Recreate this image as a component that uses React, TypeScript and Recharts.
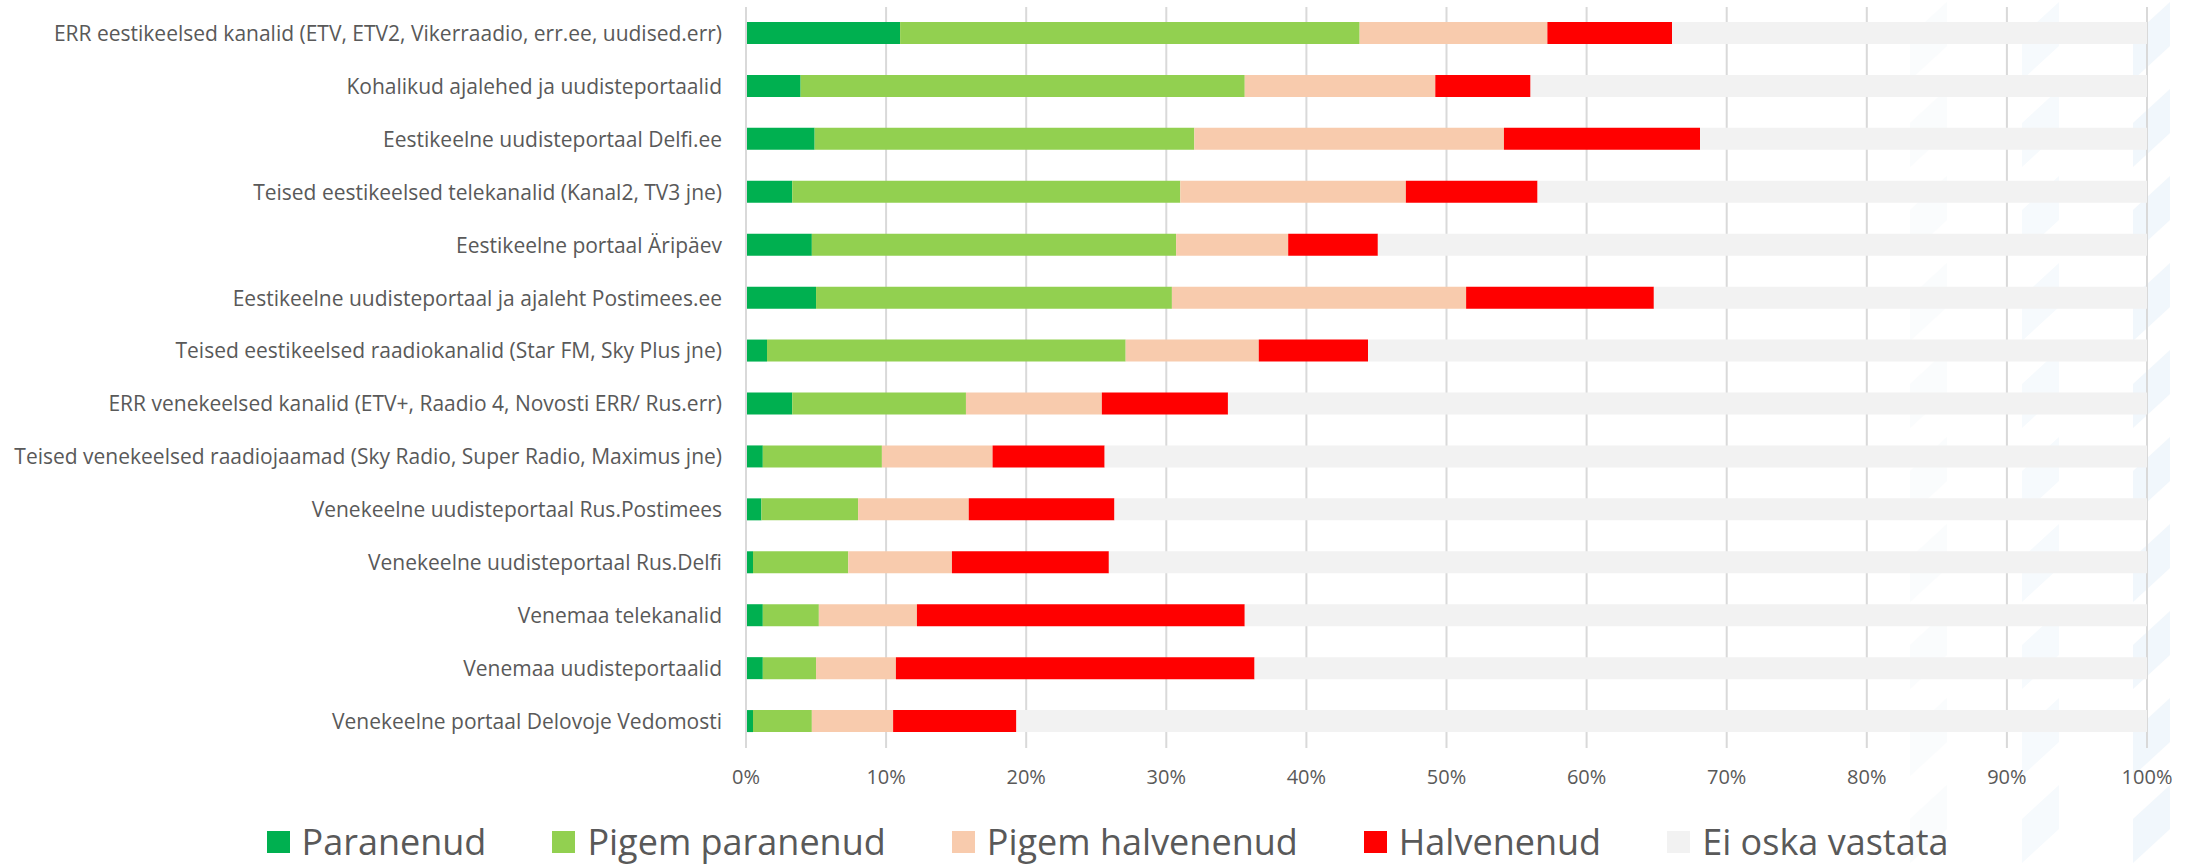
import React from 'react';
import { BarChart, Bar, XAxis, YAxis, CartesianGrid, Legend } from 'recharts';

const categories = [
  'ERR eestikeelsed kanalid (ETV, ETV2, Vikerraadio, err.ee, uudised.err)',
  'Kohalikud ajalehed ja uudisteportaalid',
  'Eestikeelne uudisteportaal Delfi.ee',
  'Teised eestikeelsed telekanalid (Kanal2, TV3 jne)',
  'Eestikeelne portaal Äripäev',
  'Eestikeelne uudisteportaal ja ajaleht Postimees.ee',
  'Teised eestikeelsed raadiokanalid (Star FM, Sky Plus jne)',
  'ERR venekeelsed kanalid (ETV+, Raadio 4, Novosti ERR/ Rus.err)',
  'Teised venekeelsed raadiojaamad (Sky Radio, Super Radio, Maximus jne)',
  'Venekeelne uudisteportaal Rus.Postimees',
  'Venekeelne uudisteportaal Rus.Delfi',
  'Venemaa telekanalid',
  'Venemaa uudisteportaalid',
  'Venekeelne portaal Delovoje Vedomosti',
];

const paranenud = [11.0, 3.9, 4.9, 3.3, 4.7, 5.0, 1.5, 3.3, 1.2, 1.1, 0.5, 1.2, 1.2, 0.5];
const pigemParanenud = [32.8, 31.7, 27.1, 27.7, 26.0, 25.4, 25.6, 12.4, 8.5, 6.9, 6.8, 4.0, 3.8, 4.2];
const pigemHalvenenud = [13.4, 13.6, 22.1, 16.1, 8.0, 21.0, 9.5, 9.7, 7.9, 7.9, 7.4, 7.0, 5.7, 5.8];
const halvenenud = [8.9, 6.8, 14.0, 9.4, 6.4, 13.4, 7.8, 9.0, 8.0, 10.4, 11.2, 23.4, 25.6, 8.8];
const eiOskaVastata = [33.9, 44.0, 31.9, 43.5, 54.9, 35.2, 55.6, 65.6, 74.4, 73.7, 74.1, 64.4, 63.7, 80.7];

const xTicks = [0, 10, 20, 30, 40, 50, 60, 70, 80, 90, 100];

const seriesNames = ['Paranenud', 'Pigem paranenud', 'Pigem halvenenud', 'Halvenenud', 'Ei oska vastata'];
const seriesKeys = ['p1', 'p2', 'p3', 'p4', 'p5'];
const seriesColors = ['#00B050', '#92D050', '#F8CBAD', '#FF0000', '#F2F2F2'];

const data = categories.map((name, i) => ({
  name,
  p1: paranenud[i],
  p2: pigemParanenud[i],
  p3: pigemHalvenenud[i],
  p4: halvenenud[i],
  p5: eiOskaVastata[i],
}));

const FONT = '"Open Sans", sans-serif';
const TEXT = '#595959';

const LegendContent = () => (
  <div
    style={{
      display: 'flex',
      justifyContent: 'center',
      alignItems: 'center',
      height: 44,
      fontFamily: FONT,
      fontSize: 36,
      color: TEXT,
      paddingLeft: 68,
    }}
  >
    {seriesNames.map((n, i) => (
      <div key={n} style={{ display: 'flex', alignItems: 'center', marginRight: i < seriesNames.length - 1 ? 66 : 0 }}>
        <div style={{ width: 23, height: 22, background: seriesColors[i], marginRight: 12 }} />
        <span style={{ lineHeight: '44px', whiteSpace: 'nowrap' }}>{n}</span>
      </div>
    ))}
  </div>
);

// very faint decorative background stripes (watermark) on the right side
const Watermark = () => {
  const cols = [
    { x: 1910, color: '#FAFCFD' },
    { x: 2022, color: '#F6FAFD' },
    { x: 2133, color: '#F1F7FC' },
  ];
  const shapes: React.ReactNode[] = [];
  cols.forEach((c, ci) => {
    for (let k = -1; k < 11; k++) {
      const yb = 80 + k * 87;
      const w = 37;
      const L = 44;
      const s = 34;
      const pts = `${c.x},${yb} ${c.x},${yb - L} ${c.x + w},${yb - L - s} ${c.x + w},${yb - s}`;
      shapes.push(<polygon key={`${ci}-${k}`} points={pts} fill={c.color} />);
    }
  });
  return (
    <svg width={2203} height={864} style={{ position: 'absolute', left: 0, top: 0 }}>
      {shapes}
    </svg>
  );
};

export default function App() {
  return (
    <div style={{ position: 'absolute', left: 0, top: 0, width: 2203, height: 864, background: '#fff', fontFamily: FONT }}>
      <Watermark />
      <div style={{ position: 'absolute', left: 0, top: 0 }}>
        <BarChart
          width={2203}
          height={864}
          data={data}
          layout="vertical"
          margin={{ top: 7, right: 56, bottom: 0, left: 0 }}
          barSize={22}
        >
          <CartesianGrid vertical={true} horizontal={false} stroke="#D9D9D9" strokeWidth={2} />
          <XAxis
            type="number"
            domain={[0, 100]}
            ticks={xTicks}
            tickFormatter={(v) => `${v}%`}
            axisLine={false}
            tickLine={false}
            tickSize={0}
            tickMargin={22}
            height={72}
            interval={0}
            tick={{ fill: TEXT, fontSize: 20, fontFamily: FONT }}
          />
          <YAxis
            type="category"
            dataKey="name"
            width={746}
            axisLine={{ stroke: '#D9D9D9', strokeWidth: 2 }}
            tickLine={false}
            tickSize={0}
            tickMargin={24}
            interval={0}
            tick={{ fill: TEXT, fontSize: 21, fontFamily: FONT }}
          />
          <Legend verticalAlign="bottom" content={<LegendContent />} />
          {seriesKeys.map((k, i) => (
            <Bar key={k} dataKey={k} name={seriesNames[i]} stackId="a" fill={seriesColors[i]} isAnimationActive={false} />
          ))}
        </BarChart>
      </div>
    </div>
  );
}
